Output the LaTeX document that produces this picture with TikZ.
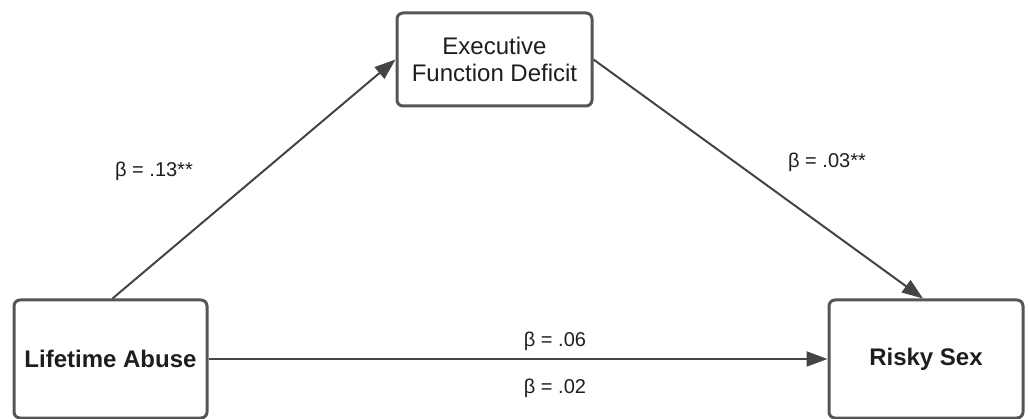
\documentclass[tikz,border=0pt]{standalone}
\usepackage{fontspec}
\setmainfont{Liberation Sans}
\usetikzlibrary{arrows.meta}
\definecolor{boxline}{HTML}{555555}
\definecolor{arrline}{HTML}{444444}
\definecolor{txt}{HTML}{1E1E1E}
\begin{document}
\begin{tikzpicture}[x=1pt,y=-1pt,
  varbox/.style={draw=boxline,line width=3pt,rounded corners=6pt,fill=white,
    minimum width=#1,inner sep=0pt,text=txt,font=\fontsize{24}{27}\selectfont,align=center},
  varbox/.default=193pt,
  conn/.style={draw=arrline,line width=2pt,-{Triangle[length=21pt,width=15pt]}},
  coef/.style={text=txt,font=\fontsize{20}{24}\selectfont,inner sep=0pt,anchor=base}]
\useasboundingbox (0,0) rectangle (1028,419);
\node[varbox=195pt,minimum height=93pt] (ef) at (494.5,59.5) {Executive\\Function Deficit};
\node[varbox=193pt,minimum height=118pt,font=\fontsize{24}{27}\selectfont\bfseries] (la) at (110.5,359) {Lifetime Abuse};
\node[varbox=194pt,minimum height=118pt,font=\fontsize{24}{27}\selectfont\bfseries] (rs) at (926,359) {Risky Sex};
\draw[conn] ([xshift=2pt]la.north) -- (ef.west);
\draw[conn] (ef.east) -- ([xshift=-3pt]rs.north);
\draw[conn] (la.east) -- (rs.west);
\node[coef] (a) at (154,177) {β = .13**};
\node[coef] (b) at (827,168) {β = .03**};
\node[coef] (c) at (555,347) {β = .06};
\node[coef] (d) at (555,394) {β = .02};
\end{tikzpicture}
\end{document}
